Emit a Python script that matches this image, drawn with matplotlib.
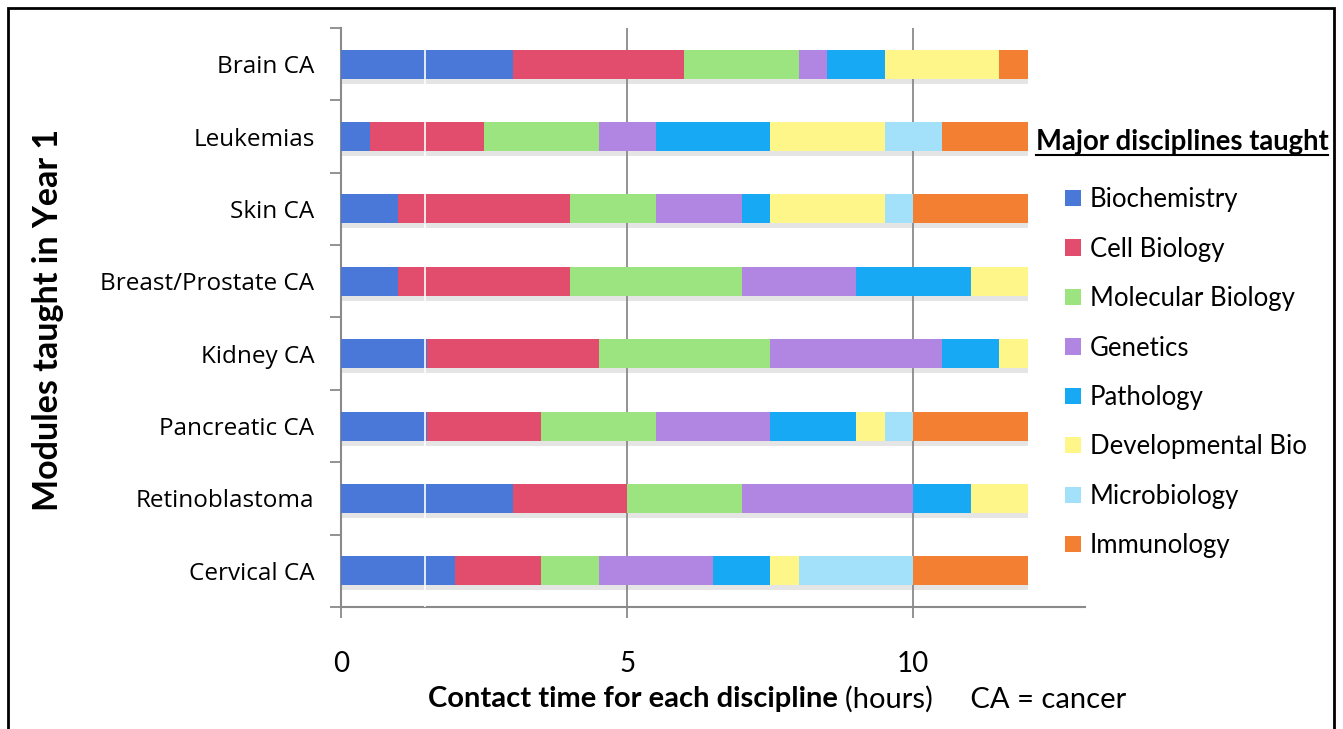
import matplotlib.pyplot as plt
from matplotlib.lines import Line2D
from matplotlib.patches import Rectangle
import numpy as np

# Data (hours per discipline)
modules = ['Brain CA', 'Leukemias', 'Skin CA', 'Breast/Prostate CA', 'Kidney CA',
           'Pancreatic CA', 'Retinoblastoma', 'Cervical CA']
disciplines = ['Biochemistry', 'Cell Biology', 'Molecular Biology', 'Genetics',
               'Pathology', 'Developmental Bio', 'Microbiology', 'Immunology']

biochemistry = [3.0, 0.5, 1.0, 1.0, 1.5, 1.5, 3.0, 2.0]
cell_biology = [3.0, 2.0, 3.0, 3.0, 3.0, 2.0, 2.0, 1.5]
molecular_biology = [2.0, 2.0, 1.5, 3.0, 3.0, 2.0, 2.0, 1.0]
genetics = [0.5, 1.0, 1.5, 2.0, 3.0, 2.0, 3.0, 2.0]
pathology = [1.0, 2.0, 0.5, 2.0, 1.0, 1.5, 1.0, 1.0]
developmental_bio = [2.0, 2.0, 2.0, 1.0, 0.5, 0.5, 1.0, 0.5]
microbiology = [0.0, 1.0, 0.5, 0.0, 0.0, 0.5, 0.0, 2.0]
immunology = [0.5, 1.5, 2.0, 0.0, 0.0, 2.0, 0.0, 2.0]

colors = ['#4A78D8', '#E24D6E', '#9BE47F', '#B086E2',
          '#18A9F5', '#FFF68A', '#A2E1F9', '#F37F33']

series = [biochemistry, cell_biology, molecular_biology, genetics,
          pathology, developmental_bio, microbiology, immunology]

W, H = 1343, 729
fig = plt.figure(figsize=(W / 100, H / 100), dpi=100)
ax = fig.add_axes([341 / W, 1 - 607 / H, (1085 - 341) / W, (607 - 28) / H])

y = np.arange(len(modules))
totals = np.sum(np.array(series), axis=0)

# soft shadow under bars (Excel style)
ax.barh(y + 0.07, totals, height=0.4, color='#999999', alpha=0.25, zorder=1)

left = np.zeros(len(modules))
handles = []
for vals, col, name in zip(series, colors, disciplines):
    b = ax.barh(y, vals, left=left, height=0.4, color=col, label=name,
                linewidth=0, zorder=3)
    handles.append(b)
    left += np.array(vals)

# faint white seam seen in the source image
ax.axvline(1.47, color='white', lw=1.2, zorder=4)

ax.set_xlim(0, 13)
ax.set_ylim(len(modules) - 0.5, -0.5)

for xv in [5, 10]:
    ax.axvline(xv, color='#8a8a8a', lw=1.3, zorder=2)

ax.set_xticks([0, 5, 10])
ax.set_xticklabels(['0', '5', '10'], fontsize=20, family='Lato')
ax.tick_params(axis='x', length=8, width=1.3, color='#8a8a8a', pad=24, direction='out')

ax.set_yticks(y)
ax.set_yticklabels(modules, fontsize=17.5, family='Open Sans')
ax.tick_params(axis='y', length=0, pad=19)
ax.set_yticks(np.arange(-0.5, len(modules)), minor=True)
ax.tick_params(axis='y', which='minor', length=8, width=1.3, color='#8a8a8a', direction='out')

for s in ['top', 'right']:
    ax.spines[s].set_visible(False)
for s in ['left', 'bottom']:
    ax.spines[s].set_color('#8a8a8a')
    ax.spines[s].set_linewidth(1.5)

fig.text(48 / W, 1 - 320 / H, 'Modules taught in Year 1', rotation=90,
         ha='center', va='center', fontsize=24.5, fontweight='bold', family='Lato')

fig.text(838 / W, 1 - 699 / H, 'Contact time for each discipline', ha='right', va='center',
         fontsize=21, fontweight='bold', family='Lato')
fig.text(845 / W, 1 - 699 / H, '(hours)     CA = cancer', ha='left', va='center',
         fontsize=21, family='Lato')

# legend
fig.text(1036 / W, 1 - 142 / H, 'Major disciplines taught', ha='left', va='center',
         fontsize=19.8, fontweight='bold', family='Lato')
fig.add_artist(Line2D([1036 / W, 1328 / W], [1 - 155 / H, 1 - 155 / H],
                      color='black', lw=1.5, transform=fig.transFigure))

leg = fig.legend(handles=handles, loc='upper left', bbox_to_anchor=(1055 / W, 1 - 177 / H),
                 frameon=False, prop={'family': 'Lato', 'size': 18.5}, handlelength=0.6,
                 handleheight=0.6, handletextpad=0.35, labelspacing=0.95, borderaxespad=0)

# outer border
fig.add_artist(Rectangle((8 / W, -0.05), (1334 - 8) / W, 1.05 - 8 / H, fill=False,
                         edgecolor='black', lw=2, transform=fig.transFigure))

fig.savefig('out.png', dpi=100, facecolor='white')
